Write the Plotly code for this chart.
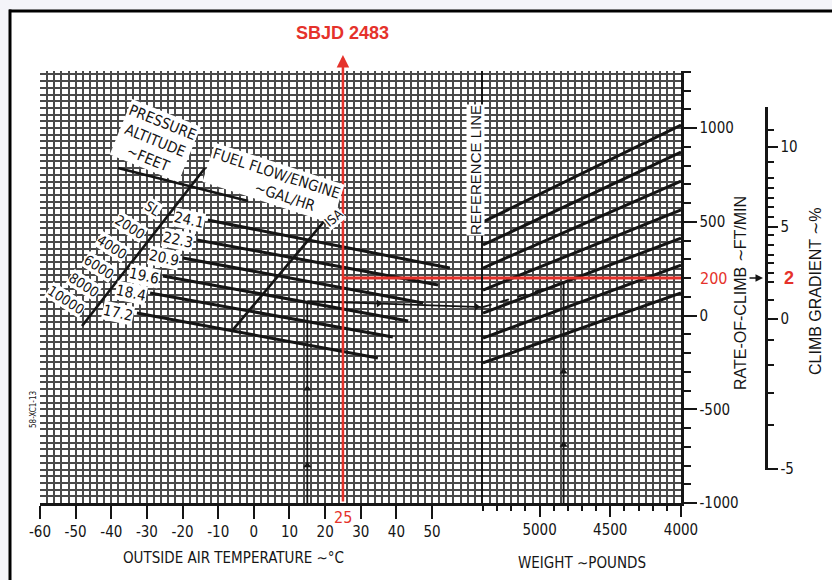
import plotly.graph_objects as go

# ---------------- data ----------------
oat_tick_vals = [-60, -50, -40, -30, -20, -10, 0, 10, 20, 30, 40, 50]
weight_tick_vals = [5000, 4500, 4000]
roc_tick_vals = [-1000, -500, 0, 500, 1000]
grad_tick_text = ["10", "5", "0", "-5"]
grad_tick_roc = [909, 483, -8, -808]          # gradient ticks expressed on the ROC scale
grad_minor_roc = [1000, 829, 744, 691, 637, 589, 536, 440, 387, 333, 291, 237, 189,
                  93, -120, -253, -403, -573]

altitude_names = ["SL", "2000", "4000", "6000", "8000", "10000"]
fuel_flow_names = ["24.1", "22.3", "20.9", "19.6", "18.4", "17.2"]

# pressure-altitude lines in the OAT panel (OAT degC, chart units)
alt_oat_start = [-12.9, -15.9, -19.9, -25.5, -29.1, -32.8]
alt_y_start = [509, 403, 307, 211, 120, 13]
alt_oat_end = [55.0, 51.7, 47.5, 43.3, 39.0, 34.8]
alt_y_end = [253, 163, 67, -29, -115, -227]

alt_scale_oat = [-13.7, -48.2]
alt_scale_y = [787, -56]
isa_oat = [20.0, -5.9]
isa_y = [509, -77]
leader_oat = [-38.1, -1.6]
leader_y = [787, 611]

# weight guide lines (reference line 5400 lb -> 4000 lb)
wl_weight = [5400, 4000]
wl_y_start = [499, 376, 253, 136, 13, -120, -253]
wl_y_end = [1016, 872, 717, 563, 413, 269, 120]

# sample (black) path
guide_oat = 15
guide_alt_y = 77
guide_ref_y = 45
guide_weight = 4830
guide_wt_y = 173

# highlighted (red) example
example_oat = 25
example_roc = 200
example_grad = 2
example_title = "SBJD 2483"

oat_range = [-60, 64.3]
weight_range = [5400, 4000]
roc_range = [-1000, 1304]
grad_range = [-813, 1123]

# ---------------- layout helpers ----------------
W, H = 832, 580
ML, MR, MT, MB = 40, 12, 71, 77
PW, PH = W - ML - MR, H - MT - MB


def px(xp):
    return (xp - ML) / PW


def py(yp):
    return (H - MB - yp) / PH


FONT = "Liberation Sans Narrow, DejaVu Sans Condensed, Arial Narrow, Liberation Sans, sans-serif"
WIDE = "Liberation Sans, Arial, sans-serif"
INK = "#151515"
RED = "#e5322b"
GRID = "#4a4a4a"
GW = 2

fig = go.Figure()

# pressure-altitude lines
for i in range(len(alt_oat_start)):
    fig.add_trace(go.Scatter(x=[alt_oat_start[i], alt_oat_end[i]], y=[alt_y_start[i], alt_y_end[i]],
                             mode="lines", line=dict(color=INK, width=3), xaxis="x", yaxis="y",
                             hoverinfo="skip"))
for xs, ys in [(alt_scale_oat, alt_scale_y), (isa_oat, isa_y), (leader_oat, leader_y)]:
    fig.add_trace(go.Scatter(x=xs, y=ys, mode="lines", line=dict(color=INK, width=2.6),
                             xaxis="x", yaxis="y", hoverinfo="skip"))

# weight lines
for i in range(len(wl_y_start)):
    fig.add_trace(go.Scatter(x=wl_weight, y=[wl_y_start[i], wl_y_end[i]], mode="lines",
                             line=dict(color=INK, width=3), xaxis="x4", yaxis="y3",
                             hoverinfo="skip"))

# sample black path
fig.add_trace(go.Scatter(x=[guide_oat, guide_oat], y=[roc_range[0], guide_alt_y], mode="lines",
                         line=dict(color=INK, width=1.8), xaxis="x", yaxis="y"))
fig.add_trace(go.Scatter(x=[guide_oat, guide_oat], y=[-800, -390], mode="markers",
                         marker=dict(symbol="triangle-up", size=7, color=INK), xaxis="x", yaxis="y"))
fig.add_trace(go.Scatter(x=[guide_oat, oat_range[1]], y=[guide_alt_y, guide_ref_y], mode="lines",
                         line=dict(color=INK, width=1.8), xaxis="x", yaxis="y"))
fig.add_trace(go.Scatter(x=[35, 62.5], y=[64, 47], mode="markers",
                         marker=dict(symbol="triangle-right", size=7, color=INK), xaxis="x", yaxis="y"))
fig.add_trace(go.Scatter(x=[weight_range[0], guide_weight], y=[guide_ref_y, guide_wt_y], mode="lines",
                         line=dict(color=INK, width=1.8, dash="dash"), xaxis="x4", yaxis="y3"))
fig.add_trace(go.Scatter(x=[guide_weight, guide_weight], y=[roc_range[0], guide_wt_y], mode="lines",
                         line=dict(color=INK, width=1.8), xaxis="x4", yaxis="y3"))
fig.add_trace(go.Scatter(x=[guide_weight, guide_weight], y=[-690, -300], mode="markers",
                         marker=dict(symbol="triangle-up", size=7, color=INK), xaxis="x4", yaxis="y3"))

# red example lines
fig.add_trace(go.Scatter(x=[example_oat, oat_range[1]], y=[example_roc, example_roc], mode="lines",
                         line=dict(color=RED, width=3), xaxis="x", yaxis="y"))
fig.add_trace(go.Scatter(x=weight_range, y=[example_roc, example_roc], mode="lines",
                         line=dict(color=RED, width=3), xaxis="x4", yaxis="y3"))

# invisible anchors for helper axes
fig.add_trace(go.Scatter(x=[None], y=[None], xaxis="x2", yaxis="y2"))
fig.add_trace(go.Scatter(x=[None], y=[None], xaxis="x5", yaxis="y4"))

ann = []


def text(x, y, s, size=15, family=FONT, color=INK, angle=0, bg=None, xref="paper", yref="paper",
         **kw):
    d = dict(x=x, y=y, xref=xref, yref=yref, text=s, showarrow=False, textangle=angle,
             xanchor=kw.pop("xanchor", "center"), yanchor=kw.pop("yanchor", "middle"),
             font=dict(family=family, size=size, color=color))
    if bg:
        d.update(bgcolor=bg, borderpad=kw.pop("borderpad", 0))
    d.update(kw)
    ann.append(d)


# red vertical example line with arrow up
ann.append(dict(x=example_oat, y=1390, xref="x", yref="y", ax=example_oat, ay=roc_range[0],
                axref="x", ayref="y", showarrow=True, arrowhead=2, arrowsize=1, arrowwidth=2.5,
                arrowcolor=RED, text=""))
text(example_oat, py(33), "<b>%s</b>" % example_title, size=18, family=WIDE, color=RED, xref="x")
text(example_oat, py(517), str(example_oat), size=16, color=RED, xref="x")
text(px(698), example_roc, str(example_roc), size=16, color=RED, yref="y", xanchor="left")
text(px(782), example_roc, "<b>%d</b>" % example_grad, size=18, family=WIDE, color=RED, yref="y",
     xanchor="left")
ann.append(dict(x=px(763), y=example_roc, xref="paper", yref="y", ax=-15, ay=0, text="",
                showarrow=True, arrowhead=2, arrowsize=1, arrowwidth=1.5, arrowcolor=INK))

# axis titles
text(px(233), py(558), "OUTSIDE AIR TEMPERATURE ∼°C", size=15)
text(px(582), py(563), "WEIGHT ∼POUNDS", size=15)
text(px(740), py(293), "RATE-OF-CLIMB ∼FT/MIN", size=16, family=WIDE, angle=-90)
text(px(815), py(292), "CLIMB GRADIENT ∼%", size=16, family=WIDE, angle=-90)
text(px(475), py(170), "REFERENCE LINE", size=15, family=WIDE, angle=-90, bg="white")
text(px(33), py(410), "58-XC1-13", size=8, angle=-90)

# chart labels
text(px(155), py(140), "PRESSURE<br>ALTITUDE<br>∼FEET", size=15, angle=22, bg="white", borderpad=1)
text(px(273), py(183), "FUEL FLOW/ENGINE<br>       ∼GAL/HR", size=15, angle=18, bg="white",
     borderpad=1)
text(px(333), py(218), "ISA", size=13, angle=-40, bg="white")
alt_label_pos = [(152, 208), (130, 227), (112, 247), (99, 267), (84, 285), (66, 300)]
for name, (xp, yp) in zip(altitude_names, alt_label_pos):
    text(px(xp), py(yp), name, size=14, angle=33, bg="white")
for i, name in enumerate(fuel_flow_names):
    text(alt_oat_start[i], alt_y_start[i], name, size=15, angle=12, bg="white", xref="x", yref="y",
         xanchor="right", xshift=-1)

d1 = px(483)
d2 = px(681)
tickfont = dict(family=FONT, size=15, color=INK)

fig.update_layout(
    width=W, height=H, autosize=False,
    margin=dict(l=ML, r=MR, t=MT, b=MB, pad=0, autoexpand=False),
    paper_bgcolor="#f4f4f9", plot_bgcolor="white",
    showlegend=False,
    xaxis=dict(domain=[0, d1], range=oat_range, anchor="y", tickmode="array", tickvals=oat_tick_vals,
               ticktext=[str(v) for v in oat_tick_vals], automargin=False,
               ticks="outside", ticklen=13, tickwidth=2, tickcolor=INK, tickfont=tickfont,
               showline=True, linewidth=2.5, linecolor=INK, showgrid=True, gridcolor=GRID, gridwidth=GW,
               minor=dict(dtick=2, tick0=-60, showgrid=True, gridcolor=GRID, gridwidth=GW, ticks=""),
               zeroline=False, fixedrange=True),
    yaxis=dict(domain=[0, 1], range=roc_range, anchor="x", tickmode="linear", tick0=-1000, dtick=250 / 7,
               showticklabels=False, ticks="", showgrid=True, gridcolor=GRID, gridwidth=GW,
               zeroline=False, showline=False, automargin=False),
    xaxis2=dict(domain=[d1, d2], range=weight_range, anchor="y2", tickmode="linear", tick0=4000, dtick=50,
                showticklabels=False, ticks="", showgrid=True, gridcolor=GRID, gridwidth=GW,
                showline=True, linewidth=2.5, linecolor=INK, zeroline=False, automargin=False),
    yaxis2=dict(domain=[0, 1], range=roc_range, anchor="x2", tickmode="linear", tick0=-1000, dtick=250 / 7,
                showticklabels=False, ticks="", showgrid=True, gridcolor=GRID, gridwidth=GW,
                zeroline=False, showline=True, linewidth=2.5, linecolor=INK, automargin=False),
    xaxis4=dict(range=weight_range, overlaying="x2", anchor="y2", side="bottom", tickmode="array",
                tickvals=weight_tick_vals, ticktext=[str(v) for v in weight_tick_vals],
                ticks="outside", ticklen=13, tickwidth=2, tickcolor=INK, automargin=False,
                tickfont=tickfont, showgrid=False, zeroline=False, showline=False,
                minor=dict(tickmode="linear", tick0=4000, dtick=100, ticks="outside", ticklen=7,
                           tickwidth=2, tickcolor=INK, showgrid=False)),
    yaxis3=dict(range=roc_range, overlaying="y2", anchor="x2", side="right", tickmode="array",
                tickvals=roc_tick_vals, ticktext=[str(v) for v in roc_tick_vals],
                ticks="outside", ticklen=13, tickwidth=2, tickcolor=INK, automargin=False,
                tickfont=tickfont, showgrid=False, zeroline=False, showline=True, linewidth=2.5,
                linecolor=INK,
                minor=dict(tickmode="linear", tick0=-1000, dtick=100, ticks="outside", ticklen=7,
                           tickwidth=2, tickcolor=INK, showgrid=False)),
    xaxis5=dict(domain=[px(700), px(765)], range=[0, 1], anchor="y4", visible=False, automargin=False),
    yaxis4=dict(domain=[py(470), py(107)], range=grad_range, anchor="x5", side="right",
                tickmode="array", tickvals=grad_tick_roc, ticktext=grad_tick_text, automargin=False,
                ticks="outside", ticklen=10, tickwidth=2, tickcolor=INK, tickfont=tickfont,
                showgrid=False, zeroline=False, showline=True, linewidth=2.5, linecolor=INK,
                minor=dict(tickmode="array", tickvals=grad_minor_roc, ticks="outside", ticklen=6,
                           tickwidth=2, tickcolor=INK, showgrid=False)),
    annotations=ann,
    shapes=[
        dict(type="rect", xref="paper", yref="paper", x0=px(10), x1=px(860), y0=py(620), y1=py(10),
             fillcolor="white", line=dict(width=0), layer="below"),
        dict(type="rect", xref="paper", yref="paper", x0=px(9), x1=px(840), y0=py(12.5), y1=py(9.5),
             fillcolor="black", line=dict(width=0), layer="above"),
        dict(type="rect", xref="paper", yref="paper", x0=px(8.5), x1=px(11.5), y0=py(590), y1=py(9.5),
             fillcolor="black", line=dict(width=0), layer="above"),
    ],
)

fig.write_html("out.html",
               config={"displayModeBar": False, "responsive": False, "staticPlot": True},
               post_script="document.body.style.margin='0px';document.body.style.overflow='hidden';")
